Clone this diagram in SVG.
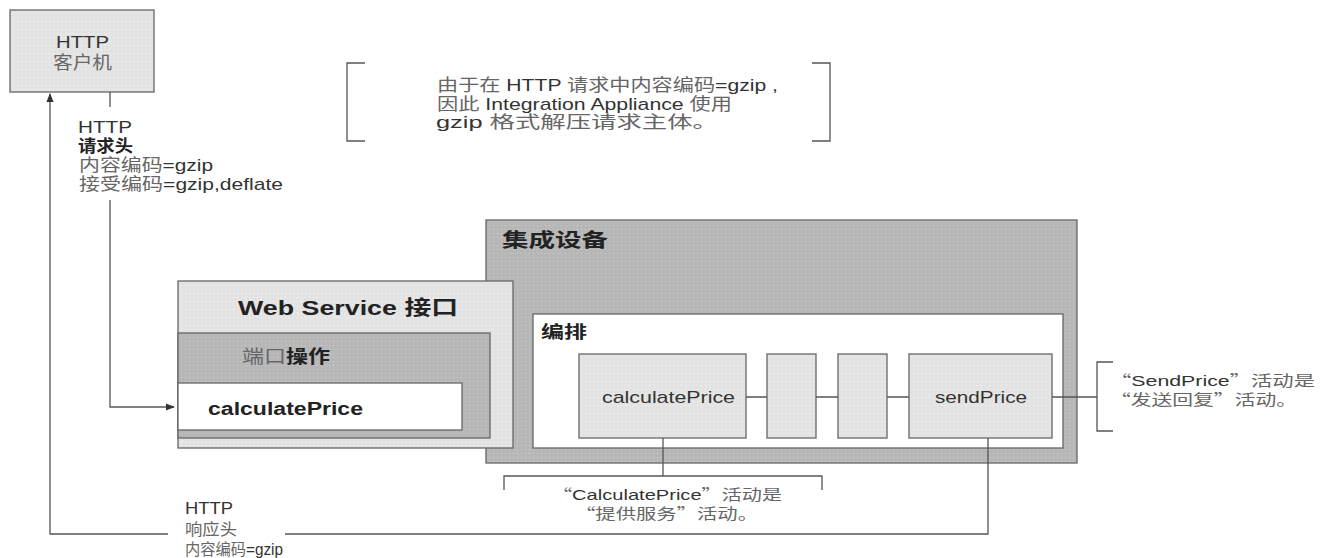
<svg xmlns="http://www.w3.org/2000/svg" width="1322" height="558" viewBox="0 0 1322 558">
<style>
text{font-family:"Liberation Sans","Noto Sans CJK SC",sans-serif;fill:#333;}
.cn{fill:#666;}
.q{font-family:"Noto Sans CJK SC",sans-serif;}
.b{font-weight:bold;fill:#222;}
.ln{stroke:#555;stroke-width:1.3;fill:none;}
.box{stroke:#666;stroke-width:1.3;}
.lt{fill:url(#pl);}
.dk{fill:url(#pd);}
.wh{fill:#fff;}
</style>
<defs>
<pattern id="pl" width="4" height="4" patternUnits="userSpaceOnUse"><rect width="4" height="4" fill="#e3e3e3"/><rect x="1" y="1" width="1" height="1" fill="#f6f6f6"/></pattern>
<pattern id="pd" width="4" height="4" patternUnits="userSpaceOnUse"><rect width="4" height="4" fill="#b7b7b7"/><rect x="1" y="1" width="1" height="1" fill="#cdcdcd"/></pattern>
<marker id="ah" viewBox="0 0 10 10" refX="9" refY="5" markerWidth="7" markerHeight="7" orient="auto"><path d="M0,1 L10,5 L0,9 z" fill="#333"/></marker>
</defs>

<g id="client">
<rect class="box" x="10" y="10" width="144" height="82" fill="url(#pl)"/>
<text x="56" y="48" font-size="17" textLength="53" lengthAdjust="spacingAndGlyphs">HTTP</text>
<text x="53" y="69" font-size="18" class="cn" textLength="59" lengthAdjust="spacingAndGlyphs">客户机</text>
</g>

<g id="request-label">
<text x="78" y="133" font-size="17" textLength="54" lengthAdjust="spacingAndGlyphs">HTTP</text>
<text x="78" y="152" font-size="17" class="b" textLength="55" lengthAdjust="spacingAndGlyphs">请求头</text>
<text x="79" y="171" font-size="17" class="cn" textLength="134" lengthAdjust="spacingAndGlyphs">内容编码<tspan fill="#333">=gzip</tspan></text>
<text x="79" y="190" font-size="17" class="cn" textLength="204" lengthAdjust="spacingAndGlyphs">接受编码<tspan fill="#333">=gzip,deflate</tspan></text>
</g>

<g id="note-top">
<path class="ln" d="M365,63 H347 V141 H365"/>
<path class="ln" d="M812,63 H830 V141 H812"/>
<text x="437" y="91" font-size="17" class="cn" textLength="341" lengthAdjust="spacingAndGlyphs">由于在 <tspan fill="#333">HTTP</tspan> 请求中内容编码<tspan fill="#333">=gzip ,</tspan></text>
<text x="437" y="110" font-size="17" class="cn" textLength="295" lengthAdjust="spacingAndGlyphs">因此 <tspan fill="#333">Integration Appliance</tspan> 使用</text>
<text x="436" y="128" font-size="17" class="cn" textLength="282" lengthAdjust="spacingAndGlyphs"><tspan fill="#333">gzip</tspan> 格式解压请求主体。</text>
</g>

<g id="appliance">
<rect class="box dk" x="486" y="220" width="591" height="243"/>
<text x="502" y="247" font-size="19" class="b" textLength="106" lengthAdjust="spacingAndGlyphs">集成设备</text>
</g>

<g id="webservice">
<rect class="box lt" x="178" y="281" width="335" height="167"/>
<text x="238" y="315" font-size="20" class="b" textLength="220" lengthAdjust="spacingAndGlyphs">Web Service 接口</text>
</g>

<g id="portop">
<rect class="box dk" x="178" y="333" width="312" height="105"/>
<text x="242" y="363" font-size="18" class="cn" textLength="88" lengthAdjust="spacingAndGlyphs">端口<tspan class="b">操作</tspan></text>
</g>

<g id="ws-calculatePrice">
<rect class="box wh" x="178" y="383" width="284" height="47"/>
<text x="208" y="415" font-size="18" class="b" textLength="155" lengthAdjust="spacingAndGlyphs">calculatePrice</text>
</g>

<g id="orchestration">
<rect class="box wh" x="533" y="314" width="530" height="134"/>
<text x="541" y="338" font-size="17" class="b" textLength="46" lengthAdjust="spacingAndGlyphs">编排</text>
</g>

<g id="calculatePrice">
<rect class="box lt" x="579" y="354" width="167" height="84"/>
<text x="602" y="403" font-size="17" textLength="133" lengthAdjust="spacingAndGlyphs">calculatePrice</text>
</g>
<g id="act2"><rect class="box lt" x="767" y="354" width="49" height="84"/></g>
<g id="act3"><rect class="box lt" x="838" y="354" width="49" height="84"/></g>
<g id="sendPrice">
<rect class="box lt" x="909" y="354" width="143" height="84"/>
<text x="935" y="403" font-size="17" textLength="92" lengthAdjust="spacingAndGlyphs">sendPrice</text>
</g>

<g id="note-send">
<path class="ln" d="M1113,362 H1097 V431 H1113"/>
<text x="1110" y="386" font-size="15" class="cn" textLength="205" lengthAdjust="spacingAndGlyphs"><tspan class="q">“</tspan><tspan fill="#333">SendPrice</tspan><tspan class="q">”</tspan>活动是</text>
<text x="1110" y="405" font-size="15" class="cn" textLength="187" lengthAdjust="spacingAndGlyphs"><tspan class="q">“</tspan>发送回复<tspan class="q">”</tspan>活动。</text>
</g>

<g id="note-calc">
<path class="ln" d="M504,490 V476 H822 V490"/>
<text x="552" y="500" font-size="15" class="cn" textLength="230" lengthAdjust="spacingAndGlyphs"><tspan class="q">“</tspan><tspan fill="#333">CalculatePrice</tspan><tspan class="q">”</tspan>活动是</text>
<text x="575" y="519" font-size="15" class="cn" textLength="183" lengthAdjust="spacingAndGlyphs"><tspan class="q">“</tspan>提供服务<tspan class="q">”</tspan>活动。</text>
</g>

<g id="response-label">
<text x="185" y="514" font-size="16" textLength="48" lengthAdjust="spacingAndGlyphs">HTTP</text>
<text x="185" y="535" font-size="16" class="cn" textLength="52" lengthAdjust="spacingAndGlyphs">响应头</text>
<text x="185" y="555" font-size="16" class="cn" textLength="98" lengthAdjust="spacingAndGlyphs">内容编码<tspan fill="#333">=gzip</tspan></text>
</g>

<g id="connectors">
<path class="ln" d="M110,92 V107"/>
<path class="ln" d="M110,200 V407 H174" marker-end="url(#ah)"/>
<path class="ln" d="M746,397 H767 M816,397 H838 M887,397 H909 M1052,397 H1097"/>
<path class="ln" d="M663,438 V476"/>
<path class="ln" d="M988,438 V534 H285"/>
<path class="ln" d="M168,534 H50 V94" marker-end="url(#ah)"/>
</g>
</svg>
